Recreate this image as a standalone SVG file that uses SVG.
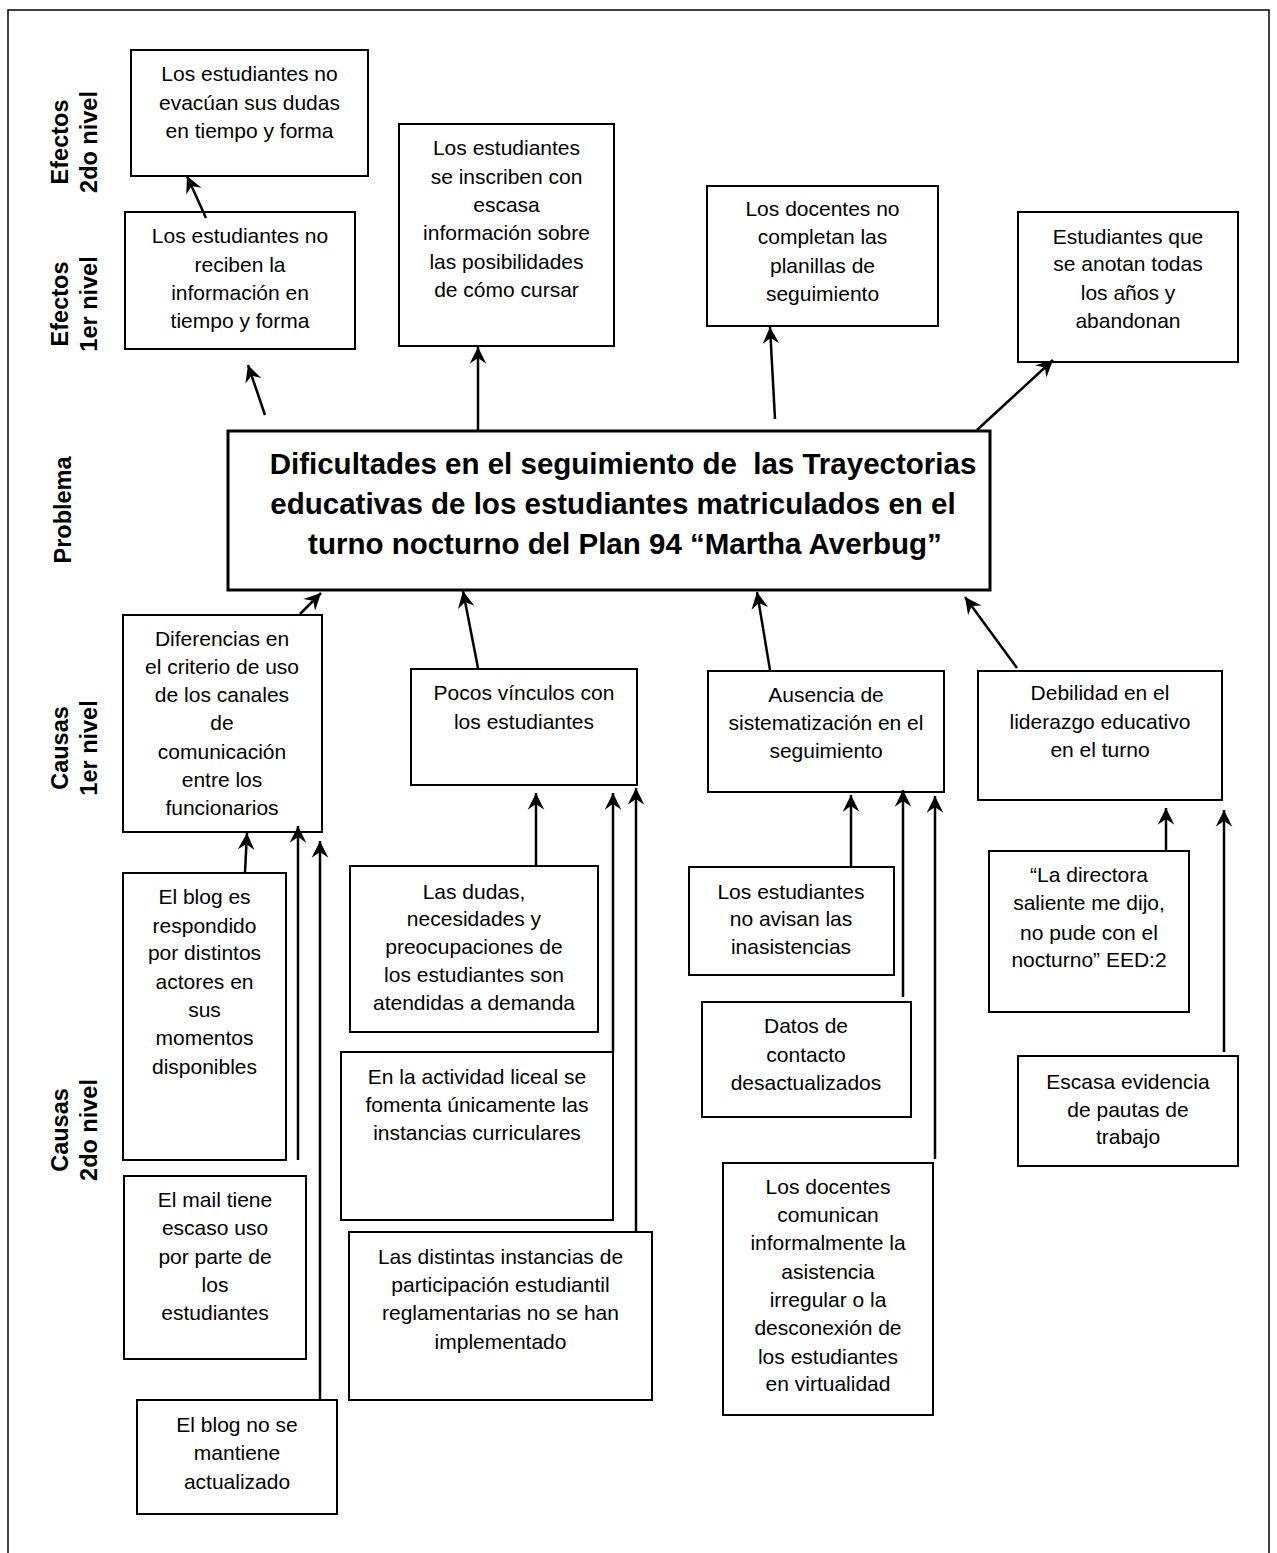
<svg xmlns="http://www.w3.org/2000/svg" width="1277" height="1553" viewBox="0 0 1277 1553">
  <style>
    .box { fill: #ffffff; stroke: #000000; stroke-width: 2; }
    .main { fill: #ffffff; stroke: #000000; stroke-width: 3; }
    .t { font-family: "Liberation Sans", Arial, sans-serif; font-size: 21px; fill: #000000; text-anchor: middle; }
    .tp { font-family: "Liberation Sans", Arial, sans-serif; font-size: 29.5px; font-weight: bold; fill: #000000; text-anchor: middle; white-space: pre; }
    .lbl { font-family: "Liberation Sans", Arial, sans-serif; font-size: 23.5px; font-weight: bold; fill: #000000; text-anchor: middle; }
    .edge { stroke: #000000; stroke-width: 2.5; fill: none; marker-end: url(#arr); }
    .frame { fill: none; stroke: #000000; stroke-width: 1.5; }
  </style>
  <defs>
    <marker id="arr" markerUnits="userSpaceOnUse" markerWidth="20" markerHeight="20" viewBox="-16 -8 18 16" refX="0" refY="0" orient="auto">
      <path d="M0,0 L-15,-7.5 L-10,0 L-15,7.5 Z" fill="#000000"/>
    </marker>
  </defs>

  <rect width="1277" height="1553" fill="#ffffff"/>
  <rect class="frame" x="8" y="10" width="1261" height="1560"/>

  <!-- row labels -->
  <g id="labels">
    <g transform="translate(68,142) rotate(-90)"><text class="lbl" x="0" y="0">Efectos</text></g>
    <g transform="translate(97,142) rotate(-90)"><text class="lbl" x="0" y="0">2do nivel</text></g>
    <g transform="translate(68,304) rotate(-90)"><text class="lbl" x="0" y="0">Efectos</text></g>
    <g transform="translate(97,304) rotate(-90)"><text class="lbl" x="0" y="0">1er nivel</text></g>
    <g transform="translate(71,510) rotate(-90)"><text class="lbl" x="0" y="0">Problema</text></g>
    <g transform="translate(68,748) rotate(-90)"><text class="lbl" x="0" y="0">Causas</text></g>
    <g transform="translate(97,748) rotate(-90)"><text class="lbl" x="0" y="0">1er nivel</text></g>
    <g transform="translate(68,1130) rotate(-90)"><text class="lbl" x="0" y="0">Causas</text></g>
    <g transform="translate(97,1130) rotate(-90)"><text class="lbl" x="0" y="0">2do nivel</text></g>
  </g>

  <!-- effects, second level -->
  <g id="efecto2-dudas">
    <rect class="box" x="131" y="50" width="237" height="126"/>
    <text class="t" x="249.5" y="81">Los estudiantes no</text>
    <text class="t" x="249.5" y="109.5">evacúan sus dudas</text>
    <text class="t" x="249.5" y="138">en tiempo y forma</text>
  </g>

  <!-- effects, first level -->
  <g id="efecto1-informacion">
    <rect class="box" x="125" y="212" width="230" height="137"/>
    <text class="t" x="240" y="243">Los estudiantes no</text>
    <text class="t" x="240" y="271.5">reciben la</text>
    <text class="t" x="240" y="300">información en</text>
    <text class="t" x="240" y="328">tiempo y forma</text>
  </g>
  <g id="efecto1-inscripcion">
    <rect class="box" x="399" y="124" width="215" height="222"/>
    <text class="t" x="506.5" y="155">Los estudiantes</text>
    <text class="t" x="506.5" y="183.5">se inscriben con</text>
    <text class="t" x="506.5" y="212">escasa</text>
    <text class="t" x="506.5" y="240">información sobre</text>
    <text class="t" x="506.5" y="268.5">las posibilidades</text>
    <text class="t" x="506.5" y="297">de cómo cursar</text>
  </g>
  <g id="efecto1-planillas">
    <rect class="box" x="707" y="186" width="231" height="140"/>
    <text class="t" x="822.5" y="216">Los docentes no</text>
    <text class="t" x="822.5" y="244">completan las</text>
    <text class="t" x="822.5" y="273">planillas de</text>
    <text class="t" x="822.5" y="301">seguimiento</text>
  </g>
  <g id="efecto1-abandono">
    <rect class="box" x="1018" y="212" width="220" height="150"/>
    <text class="t" x="1128" y="244">Estudiantes que</text>
    <text class="t" x="1128" y="271">se anotan todas</text>
    <text class="t" x="1128" y="300">los años y</text>
    <text class="t" x="1128" y="328">abandonan</text>
  </g>

  <!-- central problem -->
  <g id="problema">
    <rect class="main" x="228" y="431" width="762" height="159"/>
    <text class="tp" x="623" y="474" xml:space="preserve">Dificultades en el seguimiento de  las Trayectorias</text>
    <text class="tp" x="613" y="514">educativas de los estudiantes matriculados en el</text>
    <text class="tp" x="625" y="554">turno nocturno del Plan 94 “Martha Averbug”</text>
  </g>

  <!-- causes, first level -->
  <g id="causa1-canales">
    <rect class="box" x="123" y="615" width="199" height="217"/>
    <text class="t" x="222" y="646">Diferencias en</text>
    <text class="t" x="222" y="674">el criterio de uso</text>
    <text class="t" x="222" y="702">de los canales</text>
    <text class="t" x="222" y="730">de</text>
    <text class="t" x="222" y="759">comunicación</text>
    <text class="t" x="222" y="787">entre los</text>
    <text class="t" x="222" y="815">funcionarios</text>
  </g>
  <g id="causa1-vinculos">
    <rect class="box" x="411" y="669" width="226" height="116"/>
    <text class="t" x="524" y="700">Pocos vínculos con</text>
    <text class="t" x="524" y="729">los estudiantes</text>
  </g>
  <g id="causa1-sistematizacion">
    <rect class="box" x="708" y="671" width="236" height="121"/>
    <text class="t" x="826" y="702">Ausencia de</text>
    <text class="t" x="826" y="730">sistematización en el</text>
    <text class="t" x="826" y="758">seguimiento</text>
  </g>
  <g id="causa1-liderazgo">
    <rect class="box" x="978" y="671" width="244" height="129"/>
    <text class="t" x="1100" y="700">Debilidad en el</text>
    <text class="t" x="1100" y="729">liderazgo educativo</text>
    <text class="t" x="1100" y="757">en el turno</text>
  </g>

  <!-- causes, second level -->
  <g id="causa2-blog-respondido">
    <rect class="box" x="123" y="873" width="163" height="287"/>
    <text class="t" x="204.5" y="904">El blog es</text>
    <text class="t" x="204.5" y="933">respondido</text>
    <text class="t" x="204.5" y="960">por distintos</text>
    <text class="t" x="204.5" y="989">actores en</text>
    <text class="t" x="204.5" y="1017">sus</text>
    <text class="t" x="204.5" y="1045">momentos</text>
    <text class="t" x="204.5" y="1074">disponibles</text>
  </g>
  <g id="causa2-mail">
    <rect class="box" x="124" y="1176" width="182" height="183"/>
    <text class="t" x="215" y="1207">El mail tiene</text>
    <text class="t" x="215" y="1235">escaso uso</text>
    <text class="t" x="215" y="1264">por parte de</text>
    <text class="t" x="215" y="1292">los</text>
    <text class="t" x="215" y="1320">estudiantes</text>
  </g>
  <g id="causa2-blog-actualizado">
    <rect class="box" x="137" y="1400" width="200" height="114"/>
    <text class="t" x="237" y="1432">El blog no se</text>
    <text class="t" x="237" y="1460">mantiene</text>
    <text class="t" x="237" y="1489">actualizado</text>
  </g>
  <g id="causa2-demanda">
    <rect class="box" x="350" y="866" width="248" height="166"/>
    <text class="t" x="474" y="899">Las dudas,</text>
    <text class="t" x="474" y="926">necesidades y</text>
    <text class="t" x="474" y="954">preocupaciones de</text>
    <text class="t" x="474" y="982">los estudiantes son</text>
    <text class="t" x="474" y="1010">atendidas a demanda</text>
  </g>
  <g id="causa2-curriculares">
    <rect class="box" x="341" y="1052" width="272" height="168"/>
    <text class="t" x="477" y="1084">En la actividad liceal se</text>
    <text class="t" x="477" y="1112">fomenta únicamente las</text>
    <text class="t" x="477" y="1140">instancias curriculares</text>
  </g>
  <g id="causa2-participacion">
    <rect class="box" x="349" y="1232" width="303" height="168"/>
    <text class="t" x="500.5" y="1264">Las distintas instancias de</text>
    <text class="t" x="500.5" y="1292">participación estudiantil</text>
    <text class="t" x="500.5" y="1320">reglamentarias no se han</text>
    <text class="t" x="500.5" y="1349">implementado</text>
  </g>
  <g id="causa2-inasistencias">
    <rect class="box" x="689" y="867" width="205" height="108"/>
    <text class="t" x="791" y="899">Los estudiantes</text>
    <text class="t" x="791" y="926">no avisan las</text>
    <text class="t" x="791" y="954">inasistencias</text>
  </g>
  <g id="causa2-contacto">
    <rect class="box" x="702" y="1002" width="209" height="115"/>
    <text class="t" x="806" y="1033">Datos de</text>
    <text class="t" x="806" y="1062">contacto</text>
    <text class="t" x="806" y="1090">desactualizados</text>
  </g>
  <g id="causa2-comunicacion-informal">
    <rect class="box" x="723" y="1163" width="210" height="252"/>
    <text class="t" x="828" y="1194">Los docentes</text>
    <text class="t" x="828" y="1222">comunican</text>
    <text class="t" x="828" y="1250">informalmente la</text>
    <text class="t" x="828" y="1279">asistencia</text>
    <text class="t" x="828" y="1307">irregular o la</text>
    <text class="t" x="828" y="1335">desconexión de</text>
    <text class="t" x="828" y="1364">los estudiantes</text>
    <text class="t" x="828" y="1391">en virtualidad</text>
  </g>
  <g id="causa2-directora">
    <rect class="box" x="989" y="851" width="200" height="161"/>
    <text class="t" x="1089" y="882">“La directora</text>
    <text class="t" x="1089" y="910">saliente me dijo,</text>
    <text class="t" x="1089" y="940">no pude con el</text>
    <text class="t" x="1089" y="967">nocturno” EED:2</text>
  </g>
  <g id="causa2-pautas">
    <rect class="box" x="1018" y="1056" width="220" height="110"/>
    <text class="t" x="1128" y="1089">Escasa evidencia</text>
    <text class="t" x="1128" y="1117">de pautas de</text>
    <text class="t" x="1128" y="1144">trabajo</text>
  </g>

  <!-- connectors -->
  <g id="connectors">
    <line class="edge" x1="206" y1="218" x2="187" y2="176"/>
    <line class="edge" x1="265" y1="415" x2="248" y2="365"/>
    <line class="edge" x1="478" y1="430" x2="478" y2="347"/>
    <line class="edge" x1="775" y1="419" x2="770" y2="327"/>
    <line class="edge" x1="977" y1="430" x2="1053" y2="360"/>
    <line class="edge" x1="300" y1="614" x2="321" y2="593"/>
    <line class="edge" x1="478" y1="668" x2="463" y2="591"/>
    <line class="edge" x1="770" y1="670" x2="757" y2="592"/>
    <line class="edge" x1="1017" y1="668" x2="965" y2="597"/>
    <line class="edge" x1="245" y1="872" x2="247" y2="833"/>
    <line class="edge" x1="298" y1="1160" x2="298" y2="826"/>
    <line class="edge" x1="320" y1="1400" x2="320" y2="841"/>
    <line class="edge" x1="536" y1="866" x2="536" y2="793"/>
    <line class="edge" x1="613" y1="1052" x2="613" y2="793"/>
    <line class="edge" x1="636" y1="1232" x2="636" y2="788"/>
    <line class="edge" x1="851" y1="866" x2="851" y2="795"/>
    <line class="edge" x1="903" y1="997" x2="903" y2="790"/>
    <line class="edge" x1="935" y1="1159" x2="935" y2="796"/>
    <line class="edge" x1="1166" y1="851" x2="1166" y2="808"/>
    <line class="edge" x1="1224" y1="1052" x2="1224" y2="810"/>
  </g>
</svg>
